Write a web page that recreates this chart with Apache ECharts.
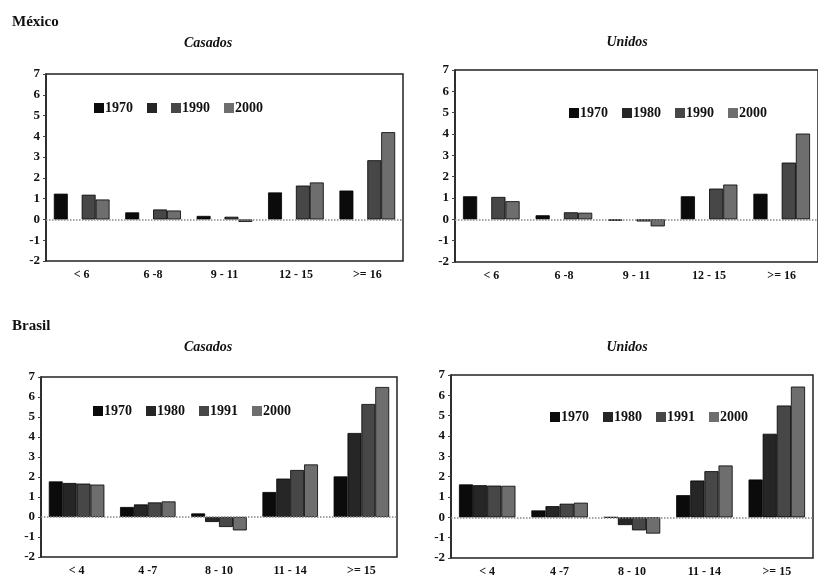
<!DOCTYPE html>
<html>
<head>
<meta charset="utf-8">
<script src="https://cdn.jsdelivr.net/npm/echarts@6/dist/echarts.min.js"></script>
<style>html,body{margin:0;padding:0;background:#fff}#c{width:818px;height:578px}</style>
</head>
<body>
<div id="c"></div>
<script>
// Categories
var catMexico = ['< 6', '6 -8', '9 - 11', '12 - 15', '>= 16'];
var catBrasil = ['< 4', '4 -7', '8 - 10', '11 - 14', '>= 15'];
var yearsMexico = ['1970', '1980', '1990', '2000'];
var yearsBrasil = ['1970', '1980', '1991', '2000'];
var yTicks = [-2, -1, 0, 1, 2, 3, 4, 5, 6, 7];

// México - Casados
var mxCas1970 = [1.24, 0.34, 0.17, 1.30, 1.39];
var mxCas1980 = [null, null, null, null, null];
var mxCas1990 = [1.19, 0.48, 0.13, 1.63, 2.85];
var mxCas2000 = [0.96, 0.43, -0.12, 1.78, 4.20];
// México - Unidos
var mxUni1970 = [1.08, 0.19, -0.07, 1.08, 1.20];
var mxUni1980 = [null, null, null, null, null];
var mxUni1990 = [1.05, 0.33, -0.10, 1.44, 2.66];
var mxUni2000 = [0.85, 0.31, -0.33, 1.63, 4.02];
// Brasil - Casados
var brCas1970 = [1.78, 0.50, 0.18, 1.25, 2.03];
var brCas1980 = [1.70, 0.63, -0.25, 1.92, 4.20];
var brCas1991 = [1.67, 0.73, -0.50, 2.35, 5.65];
var brCas2000 = [1.62, 0.78, -0.67, 2.63, 6.50];
// Brasil - Unidos
var brUni1970 = [1.62, 0.34, 0.00, 1.09, 1.86];
var brUni1980 = [1.58, 0.55, -0.38, 1.81, 4.11];
var brUni1991 = [1.56, 0.67, -0.64, 2.27, 5.50];
var brUni2000 = [1.55, 0.72, -0.80, 2.55, 6.43];

var colors = ['#0b0b0b', '#262626', '#474747', '#6e6e6e'];
var serif = '"Liberation Serif", "DejaVu Serif", serif';

var panels = [
  {grid: {left: 46, top: 74, width: 357, height: 187}, cats: catMexico, years: yearsMexico,
   data: [mxCas1970, mxCas1980, mxCas1990, mxCas2000], legend: {left: 89, top: 96}, hide1980: true},
  {grid: {left: 455, top: 70, width: 367, height: 192}, cats: catMexico, years: yearsMexico,
   data: [mxUni1970, mxUni1980, mxUni1990, mxUni2000], legend: {left: 564, top: 101}},
  {grid: {left: 41, top: 377, width: 356, height: 180}, cats: catBrasil, years: yearsBrasil,
   data: [brCas1970, brCas1980, brCas1991, brCas2000], legend: {left: 88, top: 399}},
  {grid: {left: 451, top: 375, width: 362, height: 184}, cats: catBrasil, years: yearsBrasil,
   data: [brUni1970, brUni1980, brUni1991, brUni2000], legend: {left: 545, top: 405}}
];

var option = {
  backgroundColor: '#fff',
  animation: false,
  title: [
    {text: 'México', left: 7, top: 10, textStyle: {fontFamily: serif, fontSize: 15, fontWeight: 'bold', color: '#111'}},
    {text: 'Casados', left: 203, top: 31, textAlign: 'center', textStyle: {fontFamily: serif, fontSize: 14, fontWeight: 'bold', fontStyle: 'italic', color: '#111'}},
    {text: 'Unidos', left: 622, top: 30, textAlign: 'center', textStyle: {fontFamily: serif, fontSize: 14, fontWeight: 'bold', fontStyle: 'italic', color: '#111'}},
    {text: 'Brasil', left: 7, top: 314, textStyle: {fontFamily: serif, fontSize: 15, fontWeight: 'bold', color: '#111'}},
    {text: 'Casados', left: 203, top: 335, textAlign: 'center', textStyle: {fontFamily: serif, fontSize: 14, fontWeight: 'bold', fontStyle: 'italic', color: '#111'}},
    {text: 'Unidos', left: 622, top: 335, textAlign: 'center', textStyle: {fontFamily: serif, fontSize: 14, fontWeight: 'bold', fontStyle: 'italic', color: '#111'}}
  ],
  grid: [], xAxis: [], yAxis: [], legend: [], series: []
};

panels.forEach(function (p, gi) {
  option.grid.push(Object.assign({show: true, borderColor: '#222', borderWidth: 1.5, backgroundColor: '#fff'}, p.grid));
  option.xAxis.push({
    type: 'category', gridIndex: gi, data: p.cats, position: 'bottom',
    axisLine: {show: false, onZero: false},
    axisTick: {show: false},
    axisLabel: {fontFamily: serif, fontWeight: 'bold', fontSize: 12, color: '#111', margin: 8}
  });
  option.yAxis.push({
    type: 'value', gridIndex: gi, min: yTicks[0], max: yTicks[yTicks.length - 1], interval: 1,
    splitLine: {show: false},
    axisLine: {show: true, lineStyle: {color: '#222', width: 1.5}},
    axisTick: {show: true, length: 3, lineStyle: {color: '#444'}},
    axisLabel: {fontFamily: serif, fontWeight: 'bold', fontSize: 13, color: '#111', margin: 6}
  });
  var names = p.years.map(function (y) { return y + '#' + gi; });
  option.legend.push({
    left: p.legend.left, top: p.legend.top, orient: 'horizontal',
    itemWidth: 10, itemHeight: 10, itemGap: 14,
    itemStyle: {borderWidth: 0},
    data: names.map(function (n) { return {name: n, icon: 'rect'}; }),
    formatter: function (n) {
      var y = n.split('#')[0];
      if (p.hide1980 && y === '1980') return '';
      return y;
    },
    textStyle: {fontFamily: serif, fontWeight: 'bold', fontSize: 14, color: '#111', padding: [0, 0, 0, -4]},
    selectedMode: false
  });
  p.data.forEach(function (arr, si) {
    var s = {
      name: names[si], type: 'bar', xAxisIndex: gi, yAxisIndex: gi, data: arr,
      barGap: '0%', barCategoryGap: '22%',
      itemStyle: {color: colors[si], borderColor: '#000', borderWidth: 0.8}
    };
    if (si === 0) {
      s.markLine = {
        silent: true, symbol: 'none', label: {show: false},
        lineStyle: {color: '#888', type: 'dotted', width: 1.5},
        data: [{yAxis: 0}]
      };
    }
    option.series.push(s);
  });
});

var chart = echarts.init(document.getElementById('c'), null, {renderer: 'canvas'});
chart.setOption(option);
</script>
</body>
</html>
